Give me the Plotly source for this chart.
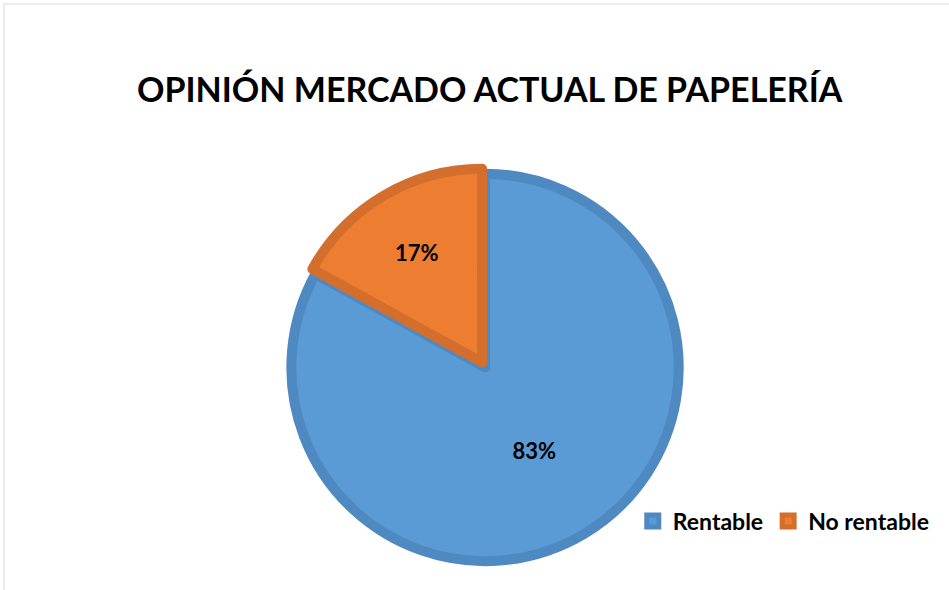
import plotly.graph_objects as go

# datos de la encuesta
categorias = ["Rentable", "No rentable"]
porcentajes = [83, 17]

colores = ["#5B9BD5", "#ED7D31"]
bordes = ["#4F89C2", "#D46E2C"]

fig = go.Figure()

fig.add_trace(go.Pie(
    labels=categorias,
    values=porcentajes,
    sort=False,
    direction="clockwise",
    rotation=0,
    pull=[0, 0.03],
    textinfo="percent",
    texttemplate="%{percent:.0%}",
    textposition="inside",
    insidetextorientation="horizontal",
    textfont=dict(family="Lato", size=22, color="black", weight="bold"),
    marker=dict(colors=colores, line=dict(color=bordes, width=10)),
    domain=dict(x=[0.3009, 0.7213], y=[0.039, 0.7153]),
    hoverinfo="label+percent",
))

# marco gris del grafico
fig.add_shape(type="rect", xref="paper", yref="paper",
              x0=4/949, x1=1.02, y0=-0.02, y1=1-4/590,
              line=dict(color="#D9D9D9", width=1))

fig.update_layout(
    width=949, height=590,
    margin=dict(l=0, r=0, t=0, b=0),
    paper_bgcolor="white",
    title=dict(text="OPINIÓN MERCADO ACTUAL DE PAPELERÍA",
               x=0.516, xanchor="center", y=1-90/590, yanchor="middle",
               font=dict(family="Lato", size=34, color="black", weight="bold")),
    legend=dict(orientation="h", x=0.985, xanchor="right",
                y=1-521/590, yanchor="middle", itemwidth=30,
                font=dict(family="Lato", size=23, color="black", weight="bold"),
                traceorder="normal"),
    showlegend=True,
)

# quitar el margen por defecto del body para que la figura empiece en 0,0
fig.write_html("out.html", config={"displayModeBar": False},
               post_script="document.body.style.margin='0';")
